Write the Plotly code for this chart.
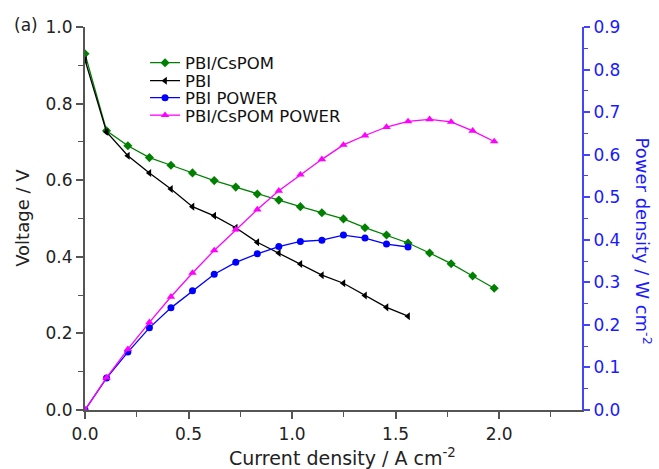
import plotly.graph_objects as go

# Current density (A cm^-2)
current = [0.0, 0.104, 0.207, 0.311, 0.415, 0.519, 0.624, 0.728, 0.832, 0.936,
           1.040, 1.144, 1.248, 1.352, 1.456, 1.560, 1.664, 1.768, 1.872, 1.976]

# Voltage (V)
v_cspom = [0.930, 0.729, 0.690, 0.659, 0.639, 0.619, 0.599, 0.582, 0.564, 0.548,
           0.531, 0.515, 0.499, 0.476, 0.457, 0.436, 0.410, 0.382, 0.350, 0.318]
v_pbi = [0.914, 0.726, 0.664, 0.619, 0.577, 0.531, 0.507, 0.476, 0.438, 0.410,
         0.381, 0.352, 0.331, 0.299, 0.268, 0.245]

# Power density (W cm^-2)
p_pbi = [0.0, 0.075, 0.136, 0.193, 0.240, 0.280, 0.319, 0.347, 0.367, 0.384,
         0.396, 0.399, 0.411, 0.404, 0.390, 0.383]
p_cspom = [0.0, 0.076, 0.143, 0.206, 0.266, 0.322, 0.375, 0.424, 0.471, 0.515,
           0.553, 0.589, 0.623, 0.645, 0.665, 0.678, 0.683, 0.677, 0.656, 0.631]

x_ticks = [0.0, 0.5, 1.0, 1.5, 2.0]
y_ticks = [0.0, 0.2, 0.4, 0.6, 0.8, 1.0]
y2_ticks = [0.0, 0.1, 0.2, 0.3, 0.4, 0.5, 0.6, 0.7, 0.8, 0.9]

GREEN = "#008000"
BLACK = "#000000"
BLUE = "#0000FF"
PINK = "#FF00FF"
AXIS = "#555555"
RAXIS = "#4444FF"
RTEXT = "#1a1aff"
FONT = "DejaVu Sans, Verdana, sans-serif"

fig = go.Figure()
fig.add_trace(go.Scatter(x=current, y=v_cspom, name="PBI/CsPOM", mode="lines+markers",
                         legend="legend",
                         line=dict(color=GREEN, width=1.3),
                         marker=dict(symbol="diamond", size=7, color=GREEN)))
fig.add_trace(go.Scatter(x=current[:len(v_pbi)], y=v_pbi, name="PBI", mode="lines+markers",
                         legend="legend2",
                         line=dict(color=BLACK, width=1.3),
                         marker=dict(symbol="triangle-left", size=7, color=BLACK)))
fig.add_trace(go.Scatter(x=current[:len(p_pbi)], y=p_pbi, name="PBI POWER", mode="lines+markers",
                         legend="legend3", yaxis="y2",
                         line=dict(color=BLUE, width=1.3),
                         marker=dict(symbol="circle", size=7, color=BLUE)))
fig.add_trace(go.Scatter(x=current, y=p_cspom, name="PBI/CsPOM POWER", mode="lines+markers",
                         legend="legend4", yaxis="y2",
                         line=dict(color=PINK, width=1.3),
                         marker=dict(symbol="triangle-up", size=7.5, color=PINK)))

def leg(ypx):
    return dict(x=0.1208, y=(410.3 - ypx) / 383.3, xanchor="left", yanchor="middle",
                bgcolor="rgba(0,0,0,0)", font=dict(size=16.5, color="#111111", family=FONT),
                itemwidth=30)

fig.update_layout(
    width=659, height=469,
    margin=dict(l=85, r=77, t=27, b=59),
    paper_bgcolor="white", plot_bgcolor="white",
    font=dict(family=FONT, size=17, color="#222222"),
    showlegend=True,
    legend=leg(63), legend2=leg(81), legend3=leg(98), legend4=leg(115.5),
    xaxis=dict(range=[0, 2.4], tickvals=x_ticks, ticktext=[f"{v:.1f}" for v in x_ticks],
               showgrid=False, zeroline=False, showline=True, linecolor=AXIS, linewidth=2,
               ticks="outside", ticklen=7, tickwidth=1.5, tickcolor=AXIS, ticklabelstandoff=1,
               minor=dict(dtick=0.25, tick0=0, ticks="outside", ticklen=5, tickcolor=AXIS, tickwidth=1.2),
               tickfont=dict(size=17, color="#222222")),
    xaxis2=dict(range=[0, 2.4], overlaying="x", side="top", anchor="y", matches="x",
                tickvals=x_ticks, showticklabels=False, showgrid=False, zeroline=False,
                showline=True, linecolor=AXIS, linewidth=2,
                ticks="inside", ticklen=6, tickwidth=1.5, tickcolor=AXIS,
                minor=dict(dtick=0.25, tick0=0, ticks="inside", ticklen=4, tickcolor=AXIS, tickwidth=1.2)),
    yaxis=dict(range=[0, 1.0], tickvals=y_ticks, ticktext=[f"{v:.1f}" for v in y_ticks],
               showgrid=False, zeroline=False, showline=True, linecolor=AXIS, linewidth=2,
               ticks="outside", ticklen=7, tickwidth=1.5, tickcolor=AXIS,
               minor=dict(dtick=0.1, tick0=0, ticks="outside", ticklen=5, tickcolor=AXIS, tickwidth=1.2),
               tickfont=dict(size=17, color="#222222")),
    yaxis2=dict(range=[0, 0.9], overlaying="y", side="right", anchor="x",
                tickvals=y2_ticks, ticktext=[f"{v:.1f}" for v in y2_ticks],
                showgrid=False, zeroline=False, showline=True, linecolor=RAXIS, linewidth=2,
                ticks="outside", ticklen=6, tickwidth=1.5, tickcolor=RAXIS,
                minor=dict(dtick=0.05, tick0=0, ticks="outside", ticklen=4, tickcolor=RAXIS, tickwidth=1.2),
                tickfont=dict(size=17, color=RTEXT)),
    annotations=[
        dict(text="Current density / A cm<sup>-2</sup>", xref="paper", yref="paper",
             x=(342 - 85) / 496.7, y=(410.3 - 457) / 383.3, xanchor="center", yanchor="middle",
             showarrow=False, font=dict(size=19, color="#222222", family=FONT)),
        dict(text="Voltage / V", xref="paper", yref="paper",
             x=(23 - 85) / 496.7, y=(410.3 - 218) / 383.3, xanchor="center", yanchor="middle",
             textangle=-90, showarrow=False, font=dict(size=18, color="#222222", family=FONT)),
        dict(text="Power density / W cm<sup>-2</sup>", xref="paper", yref="paper",
             x=(643 - 85) / 496.7, y=(410.3 - 241) / 383.3, xanchor="center", yanchor="middle",
             textangle=90, showarrow=False, font=dict(size=18, color=RTEXT, family=FONT)),
        dict(text="(a)", xref="paper", yref="paper", x=(12 - 85) / 496.7, y=(410.3 - 25) / 383.3,
             xanchor="left", yanchor="middle", showarrow=False,
             font=dict(size=17, color="#222222", family=FONT)),
    ],
)

fig.write_html("out.html")
